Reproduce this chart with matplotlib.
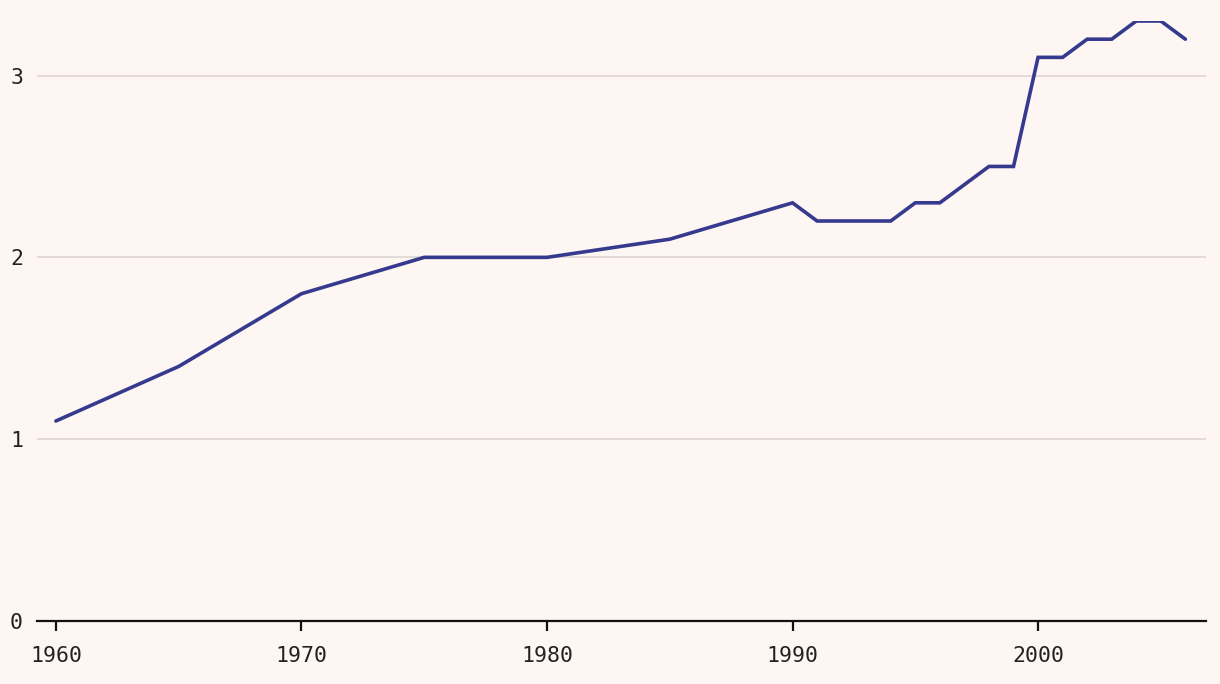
import matplotlib
matplotlib.use("Agg")
import matplotlib.pyplot as plt

years = [1960, 1965, 1970, 1975, 1980, 1985, 1990, 1991, 1992, 1993, 1994,
         1995, 1996, 1997, 1998, 1999, 2000, 2001, 2002, 2003, 2004, 2005, 2006]
values = [1.1, 1.4, 1.8, 2.0, 2.0, 2.1, 2.3, 2.2, 2.2, 2.2, 2.2,
          2.3, 2.3, 2.4, 2.5, 2.5, 3.1, 3.1, 3.2, 3.2, 3.3, 3.3, 3.2]
x_ticks = [1960, 1970, 1980, 1990, 2000]
y_ticks = [0, 1, 2, 3]

bg = "#fdf6f3"
plt.rcParams["font.family"] = ["DejaVu Sans Mono"]

fig = plt.figure(figsize=(12.2, 6.84), dpi=100, facecolor=bg)
ax = fig.add_axes([37 / 1220, 1 - 621 / 684, (1206 - 37) / 1220, (621 - 21) / 684])
ax.set_facecolor(bg)

ax.plot(years, values, color="#363a8f", linewidth=2.6, solid_joinstyle="miter",
        solid_capstyle="round", zorder=3)

ax.set_xlim(1959.23, 2006.84)
ax.set_ylim(0, 3.3)
ax.set_xticks(x_ticks)
ax.set_yticks(y_ticks)
ax.grid(axis="y", color="#e0d6d4", linewidth=1.2)
ax.grid(axis="x", visible=False)

for s in ["top", "right", "left"]:
    ax.spines[s].set_visible(False)
ax.spines["bottom"].set_color("#111111")
ax.spines["bottom"].set_linewidth(1.6)
ax.spines["bottom"].set_zorder(4)

ax.tick_params(axis="x", length=7, width=1.6, color="#111111", pad=11,
               labelsize=15.5, labelcolor="#222222")
ax.tick_params(axis="y", length=0, pad=10, labelsize=15.5, labelcolor="#222222")

fig.savefig("out.png", dpi=100, facecolor=bg)
